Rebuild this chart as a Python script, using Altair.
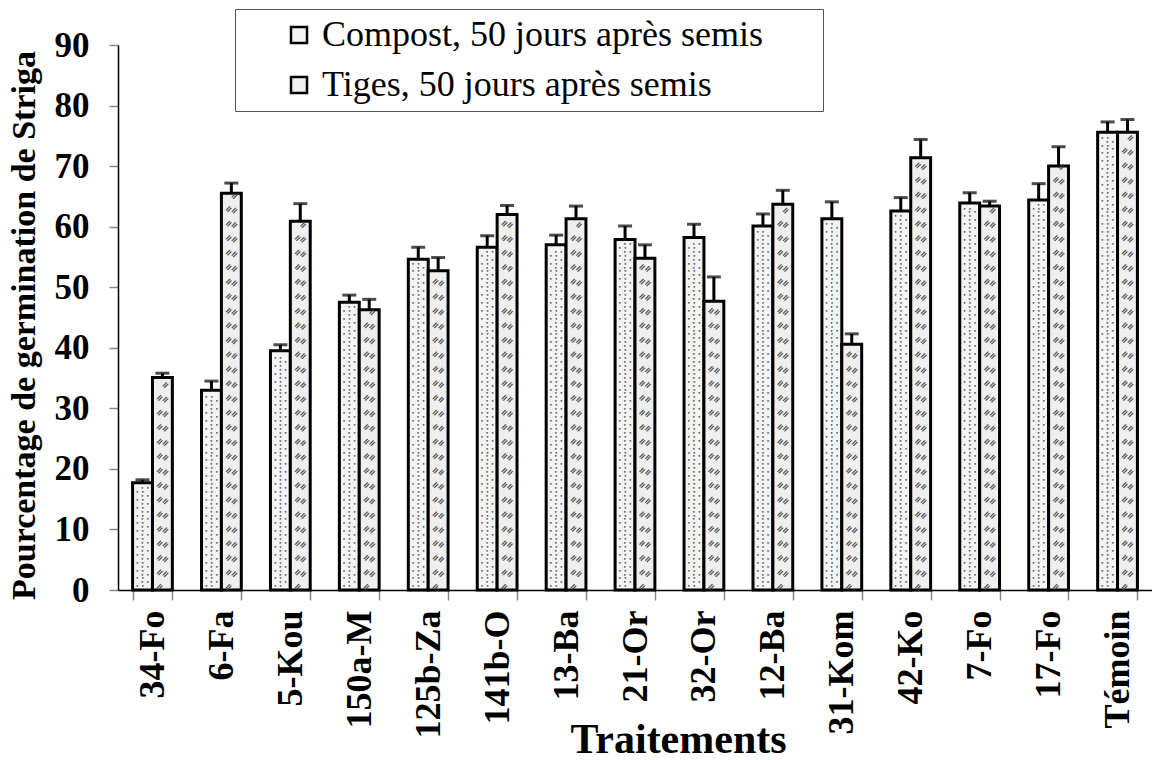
import altair as alt
import pandas as pd

categories = ["34-Fo", "6-Fa", "5-Kou", "150a-M", "125b-Za", "141b-O", "13-Ba", "21-Or",
              "32-Or", "12-Ba", "31-Kom", "42-Ko", "7-Fo", "17-Fo", "Témoin"]
compost = [17.7, 33.0, 39.5, 47.5, 54.6, 56.6, 57.0, 57.9, 58.2, 60.1, 61.3, 62.6, 63.9, 64.4, 75.6]
compost_err = [0.5, 1.5, 1.0, 1.2, 2.0, 1.9, 1.6, 2.2, 2.2, 2.0, 2.8, 2.2, 1.7, 2.7, 1.7]
tiges = [35.1, 65.5, 60.9, 46.3, 52.7, 62.0, 61.3, 54.8, 47.7, 63.7, 40.6, 71.4, 63.4, 70.0, 75.6]
tiges_err = [0.7, 1.7, 2.9, 1.7, 2.2, 1.5, 2.1, 2.2, 4.0, 2.3, 1.7, 3.0, 0.8, 3.2, 2.1]
series = ["Compost, 50 jours après semis", "Tiges, 50 jours après semis"]
fills = ["#f4f4f4", "#efefef"]

rows = []
for i, c in enumerate(categories):
    rows.append({"cat": c, "serie": series[0], "val": compost[i], "top": compost[i] + compost_err[i]})
    rows.append({"cat": c, "serie": series[1], "val": tiges[i], "top": tiges[i] + tiges_err[i]})
df = pd.DataFrame(rows)

FONT = "Liberation Serif"
PAD_CHARS = "\u2800" * 2

x_enc = alt.X(
    "cat:N", sort=categories,
    scale=alt.Scale(paddingInner=0.423, paddingOuter=0.2115),
    axis=alt.Axis(
        title="Traitements", titleFont=FONT, titleFontSize=42, titleFontWeight="bold",
        titleColor="black", titleX=560, titleY=162, titleAlign="center",
        titleBaseline="alphabetic",
        labelFont=FONT, labelFontSize=36, labelFontWeight="bold", labelColor="black",
        labelAngle=270, labelAlign="right", labelBaseline="middle", labelPadding=10,
        tickBand="extent", tickSize=10, tickColor="#888", tickWidth=1.5,
        domainColor="black", domainWidth=1.5,
    ),
)
xoff = alt.XOffset("serie:N", sort=series, scale=alt.Scale(paddingInner=0, paddingOuter=0))

y_axis = alt.Axis(
    title="Pourcentage de germination de Striga", titleFont=FONT, titleFontSize=34,
    titleFontWeight="bold", titleColor="black", titleX=-94, titleY=280,
    titleAlign="center", titleBaseline="middle", titleAngle=270,
    labelFont=FONT, labelFontSize=35, labelFontWeight="bold", labelColor="black",
    labelPadding=20, values=list(range(0, 91, 10)), tickSize=9, tickColor="#888",
    tickWidth=1.5, domainColor="black", domainWidth=1.5, grid=False,
)
y_scale = alt.Scale(domain=[0, 90], nice=False)

base = alt.Chart(df).encode(x=x_enc, xOffset=xoff)

bars = base.mark_bar(stroke="black", strokeWidth=3).encode(
    y=alt.Y("val:Q", scale=y_scale, axis=y_axis),
    fill=alt.Fill(
        "serie:N", sort=series,
        scale=alt.Scale(domain=series, range=fills),
        legend=alt.Legend(
            orient="none", legendX=117, legendY=-36, title=None,
            labelFont=FONT, labelFontSize=36, labelColor="black", labelLimit=900,
            labelExpr="datum.label + '" + PAD_CHARS + "'",
            symbolType="square", symbolSize=256, symbolStrokeColor="black",
            symbolStrokeWidth=2.5, symbolOffset=38, symbolFillColor="#dddddd",
            strokeColor="#555", padding=8, rowPadding=14, labelOffset=5,
        ),
    ),
)


def pattern(idx, text, start, step, dx, size, color, angle=0, weight="normal"):
    return (
        base.transform_filter(alt.datum.serie == series[idx])
        .transform_calculate(ys=f"sequence({start}, datum.val - 0.6, {step})")
        .transform_flatten(["ys"])
        .mark_text(text=text, fontSize=size, color=color, dx=dx, baseline="middle",
                   font="DejaVu Sans", fontWeight=weight, angle=angle)
        .encode(y=alt.Y("ys:Q", scale=y_scale, axis=y_axis))
    )


dots_a = pattern(0, "• •", 0.6, 1.3, -2.5, 6, "#555")
dots_b = pattern(0, "• •", 1.25, 1.3, 2.5, 6, "#555")
hatch_a = pattern(1, "=", 1.0, 2.4, -4, 9, "#444", angle=315, weight="bold")
hatch_b = pattern(1, "=", 2.2, 2.4, 4, 9, "#444", angle=315, weight="bold")

rules = base.mark_rule(strokeWidth=3, color="black").encode(
    y=alt.Y("val:Q", scale=y_scale, axis=y_axis), y2="top:Q"
)
caps = base.mark_tick(size=14, thickness=3, color="black").encode(
    y=alt.Y("top:Q", scale=y_scale, axis=y_axis)
)

chart = alt.layer(rules, bars, dots_a, dots_b, hatch_a, hatch_b, caps).properties(
    width=1034, height=545,
    autosize=alt.AutoSizeParams(type="none"),
    padding={"left": 118, "top": 45, "right": 0, "bottom": 170},
    background="white",
).configure(font=FONT).configure_legend(labelFont=FONT).configure_view(stroke=None)

chart.save("out.html", embed_options={"renderer": "svg", "actions": False})
